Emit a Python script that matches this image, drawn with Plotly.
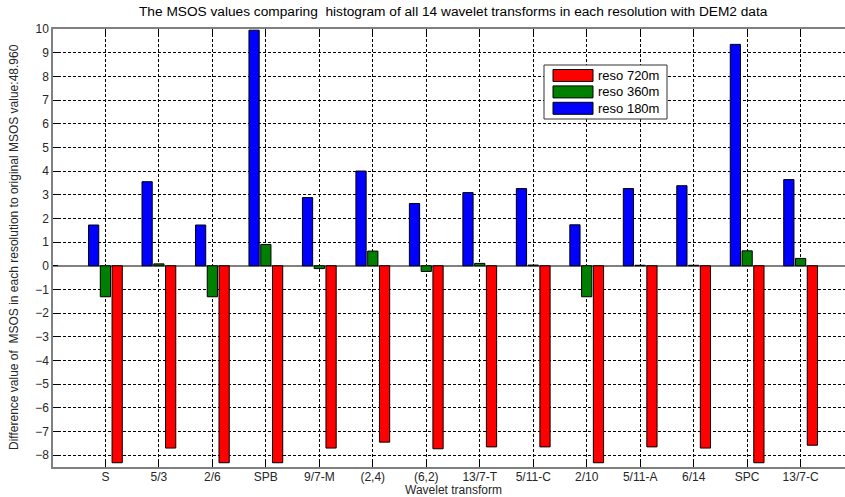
import plotly.graph_objects as go

categories = ["S", "5/3", "2/6", "SPB", "9/7-M", "(2,4)", "(6,2)", "13/7-T",
              "5/11-C", "2/10", "5/11-A", "6/14", "SPC", "13/7-C"]
reso_180 = [1.72, 3.55, 1.72, 9.95, 2.88, 4.00, 2.63, 3.09, 3.26, 1.73, 3.26, 3.38, 9.35, 3.64]
reso_360 = [-1.31, 0.08, -1.31, 0.90, -0.12, 0.62, -0.24, 0.10, 0.03, -1.31, 0.02, 0.02, 0.63, 0.31]
reso_720 = [-8.32, -7.70, -8.32, -8.32, -7.70, -7.45, -7.73, -7.65, -7.65, -8.32, -7.65, -7.70, -8.32, -7.58]
series_names = ["reso 720m", "reso 360m", "reso 180m"]
series_colors = ["#FF0000", "#008000", "#0000FF"]
y_ticks = list(range(-8, 11))

title_text = "The MSOS values comparing  histogram of all 14 wavelet transforms in each resolution with DEM2 data"
ytitle_text = "Difference value of  MSOS in each resolution to original MSOS value:48.960"
xtitle_text = "Wavelet transform"

W, H = 845, 497
ML, MR, MT, MB = 53, 0, 29, 30
PW, PH = W - ML - MR, H - MT - MB

def px(x):
    return (x - ML) / PW

def py(y):
    return (H - MB - y) / PH

FONT = "Liberation Sans"
TXT = "#262626"

fig = go.Figure()
# bars drawn left-to-right: 180m, 360m, 720m
for vals, name, color in [(reso_180, series_names[2], series_colors[2]),
                          (reso_360, series_names[1], series_colors[1]),
                          (reso_720, series_names[0], series_colors[0])]:
    fig.add_trace(go.Bar(x=categories, y=vals, name=name,
                         marker=dict(color=color, line=dict(color="#000000", width=1)),
                         showlegend=False))

grid = dict(showgrid=True, gridcolor="#000000", gridwidth=1, griddash="3px,2px")
fig.update_layout(
    width=W, height=H,
    margin=dict(l=ML, r=MR, t=MT, b=MB, autoexpand=False),
    paper_bgcolor="white", plot_bgcolor="white",
    barmode="group", bargap=0.34, bargroupgap=0.13,
    font=dict(family=FONT, size=12, color=TXT),
    xaxis=dict(type="category", range=[-0.98, 13.83], **grid,
               showline=True, linecolor="#808080", linewidth=1.5, mirror="ticks",
               ticks="inside", ticklen=5, tickcolor="#000000", ticklabelstandoff=-2,
               tickfont=dict(family=FONT, size=12, color=TXT), zeroline=False),
    yaxis=dict(range=[-8.5, 10], tickvals=y_ticks, **grid,
               showline=True, linecolor="#808080", linewidth=1.5, mirror=False,
               ticks="inside", ticklen=5, tickcolor="#000000",
               tickfont=dict(family=FONT, size=12, color=TXT),
               zeroline=True, zerolinecolor="#808080", zerolinewidth=1.5),
)

annotations = [
    dict(text=title_text, xref="x", yref="paper", x=6.5, y=py(12), xanchor="center",
         yanchor="middle", showarrow=False, font=dict(family=FONT, size=13.7, color="#000000")),
    dict(text=xtitle_text, xref="x", yref="paper", x=6.5, y=py(489.5), xanchor="center",
         yanchor="middle", showarrow=False, font=dict(family=FONT, size=12, color=TXT)),
    dict(text=ytitle_text, xref="paper", yref="paper", x=px(14), y=py(247), xanchor="center",
         yanchor="middle", textangle=-90, showarrow=False,
         font=dict(family=FONT, size=12, color=TXT)),
]

shapes = [dict(type="rect", xref="paper", yref="paper", x0=px(544), x1=px(667),
               y0=py(119), y1=py(65), fillcolor="white", line=dict(color="#333333", width=1))]
centers = [75.5, 91.9, 108.3]
for name, color, cy in zip(series_names, series_colors, centers):
    shapes.append(dict(type="rect", xref="paper", yref="paper", x0=px(553), x1=px(593),
                       y0=py(cy + 6), y1=py(cy - 6), fillcolor=color,
                       line=dict(color="#000000", width=1)))
    annotations.append(dict(text=name, xref="paper", yref="paper", x=px(596), y=py(cy),
                            xanchor="left", yanchor="middle", showarrow=False,
                            font=dict(family=FONT, size=13, color="#000000")))
fig.update_layout(annotations=annotations, shapes=shapes)

fig.write_html("out.html", config={"displayModeBar": False},
               post_script="document.body.style.margin='0';document.body.style.overflow='hidden';")
